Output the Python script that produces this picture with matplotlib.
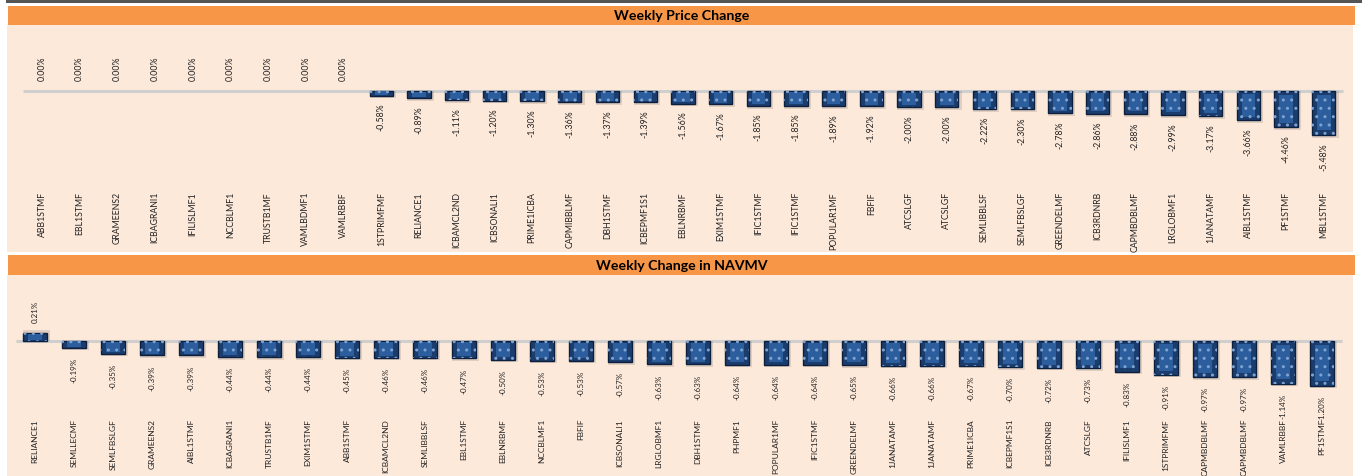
import numpy as np
import matplotlib
matplotlib.use("Agg")
import matplotlib.pyplot as plt
from matplotlib.lines import Line2D
from matplotlib.patches import Rectangle

plt.rcParams['font.family'] = ['Lato', 'DejaVu Sans']

# weekly price change (%)
price_names = ['ABB1STMF', 'EBL1STMF', 'GRAMEENS2', 'ICBAGRANI1', 'IFILISLMF1', 'NCCBLMF1',
               'TRUSTB1MF', 'VAMLBDMF1', 'VAMLRBBF', '1STPRIMFMF', 'RELIANCE1', 'ICBAMCL2ND',
               'ICBSONALI1', 'PRIME1ICBA', 'CAPMIBBLMF', 'DBH1STMF', 'ICBEPMF1S1', 'EBLNRBMF',
               'EXIM1STMF', 'IFIC1STMF', 'IFIC1STMF', 'POPULAR1MF', 'FBFIF', 'ATCSLGF',
               'ATCSLGF', 'SEMLIBBLSF', 'SEMLFBSLGF', 'GREENDELMF', 'ICB3RDNRB', 'CAPMBDBLMF',
               'LRGLOBMF1', '1JANATAMF', 'AIBL1STMF', 'PF1STMF', 'MBL1STMF']
price_chg = [0.00, 0.00, 0.00, 0.00, 0.00, 0.00, 0.00, 0.00, 0.00, -0.58, -0.89, -1.11,
             -1.20, -1.30, -1.36, -1.37, -1.39, -1.56, -1.67, -1.85, -1.85, -1.89, -1.92,
             -2.00, -2.00, -2.22, -2.30, -2.78, -2.86, -2.88, -2.99, -3.17, -3.66, -4.46, -5.48]

# weekly change in NAV/MV (%)
nav_names = ['RELIANCE1', 'SEMLLECMF', 'SEMLFBSLGF', 'GRAMEENS2', 'AIBL1STMF', 'ICBAGRANI1',
             'TRUSTB1MF', 'EXIM1STMF', 'ABB1STMF', 'ICBAMCL2ND', 'SEMLIBBLSF', 'EBL1STMF',
             'EBLNRBMF', 'NCCBLMF1', 'FBFIF', 'ICBSONALI1', 'LRGLOBMF1', 'DBH1STMF', 'PHPMF1',
             'POPULAR1MF', 'IFIC1STMF', 'GREENDELMF', '1JANATAMF', '1JANATAMF', 'PRIME1ICBA',
             'ICBEPMF1S1', 'ICB3RDNRB', 'ATCSLGF', 'IFILISLMF1', '1STPRIMFMF', 'CAPMBDBLMF',
             'CAPMBDBLMF', 'VAMLRBBF', 'PF1STMF']
nav_chg = [0.21, -0.19, -0.35, -0.39, -0.39, -0.44, -0.44, -0.44, -0.45, -0.46, -0.46, -0.47,
           -0.50, -0.53, -0.53, -0.57, -0.63, -0.63, -0.64, -0.64, -0.64, -0.65, -0.66, -0.66,
           -0.67, -0.70, -0.72, -0.73, -0.83, -0.91, -0.97, -0.97, -1.14, -1.20]

W, H = 1363, 476
fig = plt.figure(figsize=(W / 100, H / 100), dpi=100)
fig.patch.set_facecolor('white')

ORANGE = '#F79646'
PEACH = '#FDE9DA'


def px_axes(x0, y0, x1, y1):
    return fig.add_axes([x0 / W, 1 - y1 / H, (x1 - x0) / W, (y1 - y0) / H])


def title_bar(y0, y1, text):
    ax = px_axes(8, y0, 1355, y1)
    ax.set_facecolor(ORANGE)
    ax.set_xticks([])
    ax.set_yticks([])
    for s in ax.spines.values():
        s.set_visible(False)
    ax.text(0.5, 0.45, text, ha='center', va='center', fontsize=10.2,
            fontweight='bold', color='black', transform=ax.transAxes)


def panel(y0, y1, names, vals, xlim, ylim, cat_y, cat_size, lab_off, lab_size):
    ax = px_axes(7, y0, 1353, y1)
    ax.set_xlim(*xlim)
    ax.set_ylim(*ylim)
    ax.axis('off')
    ax.add_patch(Rectangle((0, 0), 1, 1, transform=ax.transAxes, color=PEACH, zorder=0))
    x = np.arange(len(vals))
    v = np.array(vals)
    n = len(vals)
    ax.hlines(0, -0.5, n - 0.5, color='#CFCFCF', lw=2.2, zorder=2)
    span = ylim[1] - ylim[0]
    sh = span * 0.012
    lw = np.where(v == 0, 0, 1.0)
    # soft shadow
    ax.bar(x + 0.04, v + np.sign(v) * sh, width=0.7, color='#8C7F78', alpha=0.25,
           lw=0, zorder=2)
    ax.bar(x, v, width=0.62, color='#1B3D6E', edgecolor='#0C1F3D', lw=lw, zorder=3)
    ax.bar(x, v * 0.78, bottom=v * 0.1, width=0.36, color='#2C5E9E', lw=0, zorder=4)
    ax.bar(x, v, width=0.62, facecolor='none', edgecolor='#7FA3D1', lw=0,
           hatch='..', zorder=5)
    for i in range(n):
        off = 10 if v[i] >= 0 else -lab_off
        ax.annotate('%.2f%%' % v[i], (x[i], v[i]), xytext=(0, off),
                    textcoords='offset pixels', rotation=90, ha='center',
                    va='bottom' if v[i] >= 0 else 'top',
                    fontsize=lab_size, color='#222222', zorder=6)
        ax.text(x[i], cat_y, names[i], rotation=90, ha='center', va='top',
                fontsize=cat_size, color='#222222',
                transform=ax.get_xaxis_transform(), zorder=6)
    return ax


# top chart
title_bar(6, 25, 'Weekly Price Change')
zy, ppu = 91, 8.03
panel(25, 252, price_names, price_chg,
      ((7 - 42) / 37.7, (1353 - 42) / 37.7),
      (-(252 - zy) / ppu, (zy - 25) / ppu),
      (252 - 192) / 227, 6.3, 8, 6.3)

# bottom chart
title_bar(255, 275, 'Weekly Change in NAVMV')
zy2, ppu2 = 340.7, 37.7
panel(275, 476, nav_names, nav_chg,
      ((7 - 35) / 39.0, (1353 - 35) / 39.0),
      (-(476 - zy2) / ppu2, (zy2 - 275) / ppu2),
      (476 - 419) / 201, 6.0, 10, 5.8)

# top border line
fig.add_artist(Line2D([7 / W, 1360 / W], [1 - 1.2 / H, 1 - 1.2 / H],
                      color='#555555', lw=2.2, transform=fig.transFigure))

fig.savefig('out.png', dpi=100, facecolor='white')
